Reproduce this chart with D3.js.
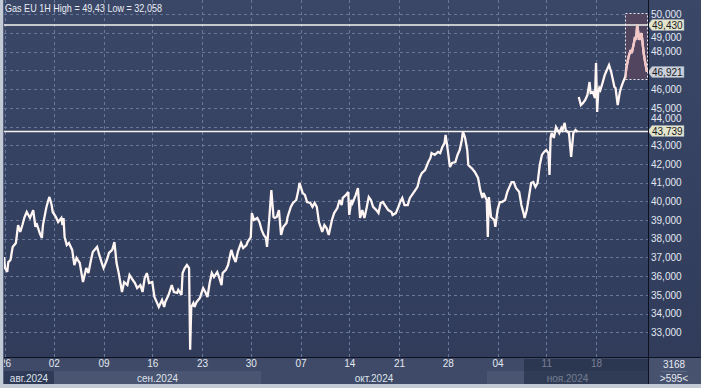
<!DOCTYPE html>
<html><head><meta charset="utf-8">
<script src="https://cdn.jsdelivr.net/npm/d3@7"></script>
<style>
body{margin:0;background:#c4ccd8;}
svg{display:block;font-family:"Liberation Sans",Arial,sans-serif;}
</style>
</head><body>
<svg id="c" width="701" height="388"></svg>
<script>
// ---------- DATA ----------
const instrument = "Gas EU";
const timeframe = "1H";
const visibleBars = 595;
const totalBars = 3168;
// bar index (hourly bars since 26 Aug 2024) and price, EUR/MWh; null = session gap
const bars = [0,1,3,4,6,8,11,13,15,17,19,21,24,27,29,30,33,35,36,39,41,42,44,45,48,50,53,54,55,56,58,60,63,65,67,70,73,76,78,80,82,86,88,91,92,95,97,100,102,104,106,109,111,114,116,119,121,123,126,128,130,132,134,137,139,141,143,146,148,
149,152,155,157,160,161,164,165,167,169,171,172,173,175,176,178,181,184,186,188,190,192,194,197,199,201,202,205,207,210,212,214,216,219,221,224,225,228,229,231,234,236,238,240,242,243,245,247,249,250,252,254,256,258,261,262,265,267,270,272,273,276,278,280,283,285,287,289,291,294,296,298,300,
303,305,308,310,312,313,316,318,319,321,322,325,327,329,331,333,335,337,339,341,344,346,348,350,353,355,358,359,362,364,366,368,370,373,375,377,380,382,384,386,389,392,394,395,398,401,403,405,407,408,410,412,414,417,419,421,423,424,426,428,429,431,432,435,438,440,442,443,446,447,448,450,453,
454,456,458,460,463,465,467,469,471,473,476,478,480,481,483,485,487,489,491,493,495,497,499,501,503,504,505,506,508,510,513,515,516,518,519,522,524,526,528,530,530.5,
531,533,535,537,539,541,542,544,546,547,548,549,550,551,553,555,557,559,561,562,564,565,567,569,570,572,574,575,577,579,580,582,583,584,585,587,589,590,591,592,594];
const prices = [37.02,36.43,36.22,36.75,36.86,37.56,37.77,38.73,38.36,38.73,39.16,39.43,39.11,39.53,38.63,38.84,38.30,38.04,38.73,39.64,40.07,40.23,39.80,39.43,39.16,38.89,39.11,38.73,39.11,38.09,37.66,37.77,37.40,36.59,36.97,36.70,35.68,36.43,36.16,36.75,37.29,37.56,37.13,36.59,36.43,36.86,37.24,37.40,37.82,36.70,36.16,35.15,35.68,35.52,36.06,35.79,35.63,35.36,35.52,35.15,35.90,36.16,35.63,35.68,34.88,34.62,34.35,34.72,34.35,
34.62,34.99,35.52,35.15,35.10,35.26,34.99,36.16,36.43,36.59,36.43,32.058,34.35,34.56,34.35,34.62,34.83,35.36,35.15,34.88,35.63,36.16,35.95,36.22,35.90,35.52,36.16,36.33,36.59,37.40,37.02,36.75,37.29,37.77,37.50,37.66,37.82,38.09,39.37,39.00,39.11,38.89,38.47,38.20,38.04,37.56,39.00,40.60,39.16,39.11,39.16,39.53,38.20,38.63,38.84,39.16,39.70,39.91,40.07,40.60,40.98,40.44,40.34,39.96,39.91,39.70,39.91,39.70,38.89,38.36,38.73,38.57,38.20,
39.00,39.37,39.64,40.07,39.80,40.18,40.34,40.50,39.27,40.07,39.91,40.34,40.71,39.11,39.53,39.11,39.64,40.23,40.07,39.70,39.53,39.37,39.91,39.96,39.70,39.53,39.43,39.27,39.37,39.64,39.96,40.18,39.80,39.80,40.18,40.34,40.60,40.77,41.25,41.51,41.67,42.10,42.32,42.58,42.48,42.64,42.58,42.90,43.12,43.55,42.74,41.83,42.05,42.10,42.48,42.74,43.28,43.74,43.39,42.74,41.94,41.83,41.78,41.57,41.25,40.60,40.18,40.44,40.07,38.09,40.23,39.16,39.00,
38.63,39.53,39.96,39.96,40.07,40.50,40.77,41.03,41.03,40.71,40.50,39.80,39.37,39.11,39.53,40.23,40.98,41.03,40.77,40.98,41.94,42.48,42.64,42.74,42.58,41.41,43.39,43.65,43.39,43.97,43.65,43.92,43.81,44.19,43.81,43.65,42.37,43.65,43.81,43.71,null,
45.58,45.15,45.26,45.42,45.68,46.38,45.79,45.85,45.52,47.40,44.78,45.79,46.06,45.95,46.33,46.75,47.02,47.29,46.91,46.65,46.11,46.06,45.15,45.85,46.06,46.38,46.65,47.13,47.72,48.09,47.93,48.46,48.79,48.63,49.43,48.63,49.00,48.46,47.93,47.56,46.921];

const weekBars   = [1,46,92,137,183,228,274,319,365,410,456,501,547];
const weekLabels = ["26","02","09","16","23","30","07","14","21","28","04","11","18"];
const monthStartBars = [0,46,237,446];
const monthLabels = ["авг.2024","сен.2024","окт.2024","ноя.2024"];
const priceTicks = [33,34,35,36,37,38,39,40,41,42,43,44,45,46,47,48,49,50];
const levelLines = [49.43, 43.739];
const lastPrice = 46.921;
const highlight = {fromBar: 574, toBar: 595, high: 50.07, low: 46.54};
const navStartBar = 480;

// ---------- LAYOUT ----------
const svg = d3.select("#c");
const W = 701, H = 388;
const P = {l: 4, r: 648, t: 0, b: 357};
const x = d3.scaleLinear().domain([0, visibleBars]).range([P.l, P.r]);
const y = d3.scaleLinear().domain([32, 50]).range([350.9, 14.3]);
const fmt = v => d3.format(".3f")(v).replace(".", ",");
const FS = 10;

const defs = svg.append("defs");
const g = defs.append("linearGradient").attr("id","bg").attr("x1",0).attr("y1",0).attr("x2",0).attr("y2",1);
g.append("stop").attr("offset","0%").attr("stop-color","#3b4767");
g.append("stop").attr("offset","100%").attr("stop-color","#303c5a");
defs.append("clipPath").attr("id","plotclip").append("rect")
  .attr("x",P.l).attr("y",P.t).attr("width",P.r-P.l).attr("height",P.b-P.t);
defs.append("clipPath").attr("id","hlclip").append("rect")
  .attr("x",x(highlight.fromBar)).attr("y",y(highlight.high))
  .attr("width",x(highlight.toBar)-x(highlight.fromBar)).attr("height",y(highlight.low)-y(highlight.high));

svg.append("rect").attr("width",W).attr("height",H).attr("fill","#3d4966");
svg.append("rect").attr("x",0).attr("y",0).attr("width",W).attr("height",P.b).attr("fill","url(#bg)");

// grid
const grid = svg.append("g").attr("stroke","#69789a").attr("stroke-width",1).attr("stroke-dasharray","3,3");
grid.selectAll(".h").data(priceTicks).join("line")
  .attr("x1",P.l).attr("x2",P.r).attr("y1",d=>Math.round(y(d))+0.5).attr("y2",d=>Math.round(y(d))+0.5);
grid.selectAll(".v").data(weekBars).join("line")
  .attr("x1",d=>Math.round(x(d))+0.5).attr("x2",d=>Math.round(x(d))+0.5).attr("y1",P.t).attr("y2",P.b);

// highlight box
svg.append("rect")
  .attr("x",Math.round(x(highlight.fromBar))+0.5).attr("y",Math.round(y(highlight.high))+0.5)
  .attr("width",Math.round(x(highlight.toBar)-x(highlight.fromBar))-1)
  .attr("height",Math.round(y(highlight.low)-y(highlight.high)))
  .attr("fill","#514560").attr("stroke","#e8e8f0").attr("stroke-dasharray","2,2").attr("stroke-width",1);

// level lines
svg.selectAll(".lvl").data(levelLines).join("line")
  .attr("x1",P.l).attr("x2",P.r).attr("y1",d=>y(d)).attr("y2",d=>y(d))
  .attr("stroke","#f4f4f0").attr("stroke-width",1.5);

// price line
const pts = bars.map((b,i)=>({b, v: prices[i]}));
const line = d3.line().defined(d=>d.v!==null).x(d=>x(d.b)).y(d=>y(d.v));
const pl = svg.append("g").attr("clip-path","url(#plotclip)");
pl.append("path").datum(pts).attr("d",line).attr("fill","none")
  .attr("stroke","#fff6f4").attr("stroke-width",2.3).attr("stroke-linejoin","miter").attr("stroke-miterlimit",3);
pl.append("path").datum(pts).attr("d",line).attr("fill","none").attr("clip-path","url(#hlclip)")
  .attr("stroke","#f3c6c6").attr("stroke-width",2.3).attr("stroke-linejoin","miter").attr("stroke-miterlimit",3);

// title
const hi = d3.max(prices), lo = d3.min(prices.filter(v=>v!==null));
svg.append("text").attr("x",5).attr("y",12).attr("font-size",11).attr("fill","#e8ecf4")
  .attr("textLength",157).attr("lengthAdjust","spacingAndGlyphs")
  .text(`${instrument}  ${timeframe} High = ${String(hi).replace(".",",")} Low = ${String(lo).replace(".",",")}`);

// right axis; labels fully under a price marker are hidden (as in the original),
// labels partly under one are nudged clear of it
const markers = [lastPrice].concat(levelLines);
const near = d => markers.find(v => Math.abs(y(v) - y(d)) < 10);
const shownTicks = priceTicks.filter(d => !markers.some(v => Math.abs(y(v) - y(d)) < 3));
const nudge = d => {
  const m = near(d);
  if (m === undefined) return "0.32em";
  return y(d) > y(m) ? "0.75em" : "-0.5em";
};
const ya = svg.append("g").attr("transform",`translate(${P.r},0)`)
  .call(d3.axisRight(y).tickValues(shownTicks).tickSize(0).tickPadding(3).tickFormat(fmt));
ya.select(".domain").remove();
ya.selectAll("text").attr("font-size",FS).attr("fill","#e2e8f2").attr("font-family","Liberation Sans, Arial, sans-serif")
  .attr("dy", nudge);

// price markers
function marker(v, fill){
  const yy = Math.round(y(v));
  const gm = svg.append("g");
  gm.append("path").attr("d",`M${P.r},${yy} L${P.r+4},${yy-5.5} L${P.r+36},${yy-5.5} L${P.r+36},${yy+5.5} L${P.r+4},${yy+5.5} Z`)
    .attr("fill",fill).attr("stroke","#9aa3b3").attr("stroke-width",0.5);
  gm.append("text").attr("x",P.r+4).attr("y",yy+3.5).attr("font-size",FS).attr("fill","#1a1a22").text(fmt(v));
}
levelLines.forEach(v=>marker(v,"#e3e4cc"));
marker(lastPrice,"#c9d0dc");

// bottom axis
const rowY = 358;
svg.append("rect").attr("x",0).attr("y",rowY).attr("width",P.r).attr("height",13).attr("fill","#3e4a67");
const monthEdges = monthStartBars.concat([visibleBars]);
const monthFill = ["#2f3a56","#4a5571","#3e4a67","#4a5571"];
monthStartBars.forEach((b,i)=>{
  const x0 = Math.round(x(b)), x1 = Math.round(x(monthEdges[i+1]));
  svg.append("rect").attr("x",x0).attr("y",371).attr("width",x1-x0).attr("height",13).attr("fill",monthFill[i]);
  svg.append("text").attr("x",(x0+x1)/2).attr("y",381.5).attr("text-anchor","middle")
    .attr("font-size",FS).attr("fill","#dde3ec").text(monthLabels[i]);
});
const xa = svg.append("g").attr("transform",`translate(0,${rowY})`)
  .call(d3.axisBottom(x).tickValues(weekBars).tickSize(0).tickPadding(2).tickFormat((d,i)=>weekLabels[i]));
xa.select(".domain").remove();
xa.selectAll("text").attr("font-size",FS).attr("fill","#e4e8f0").attr("font-family","Liberation Sans, Arial, sans-serif");

// navigator overlay
svg.append("rect").attr("x",Math.round(x(navStartBar))).attr("y",rowY+1).attr("width",P.r-Math.round(x(navStartBar))).attr("height",25)
  .attr("fill","#1c2740").attr("opacity",0.55);

// bottom-right cell
svg.append("rect").attr("x",P.r).attr("y",rowY).attr("width",W-P.r).attr("height",26).attr("fill","#46526e");
svg.append("text").attr("x",674).attr("y",368).attr("text-anchor","middle").attr("font-size",FS).attr("fill","#e6eaf2").text(totalBars);
svg.append("line").attr("x1",661).attr("x2",687).attr("y1",371.5).attr("y2",371.5).attr("stroke","#5d6985");
svg.append("text").attr("x",674).attr("y",381.5).attr("text-anchor","middle").attr("font-size",FS).attr("fill","#e6eaf2").text(`>${visibleBars}<`);

// separators
svg.append("line").attr("x1",0).attr("x2",W).attr("y1",P.b+0.5).attr("y2",P.b+0.5).attr("stroke","#0e1220");
svg.append("line").attr("x1",P.r+0.5).attr("x2",P.r+0.5).attr("y1",0).attr("y2",384).attr("stroke","#0e1220");

// frame
svg.append("rect").attr("x",0).attr("y",0).attr("width",3).attr("height",H).attr("fill","#c2cad6");
svg.append("line").attr("x1",3.5).attr("x2",3.5).attr("y1",0).attr("y2",384).attr("stroke","#5a6680");
svg.append("rect").attr("x",0).attr("y",384).attr("width",W).attr("height",4).attr("fill","#c2cad6");
</script>
</body></html>
